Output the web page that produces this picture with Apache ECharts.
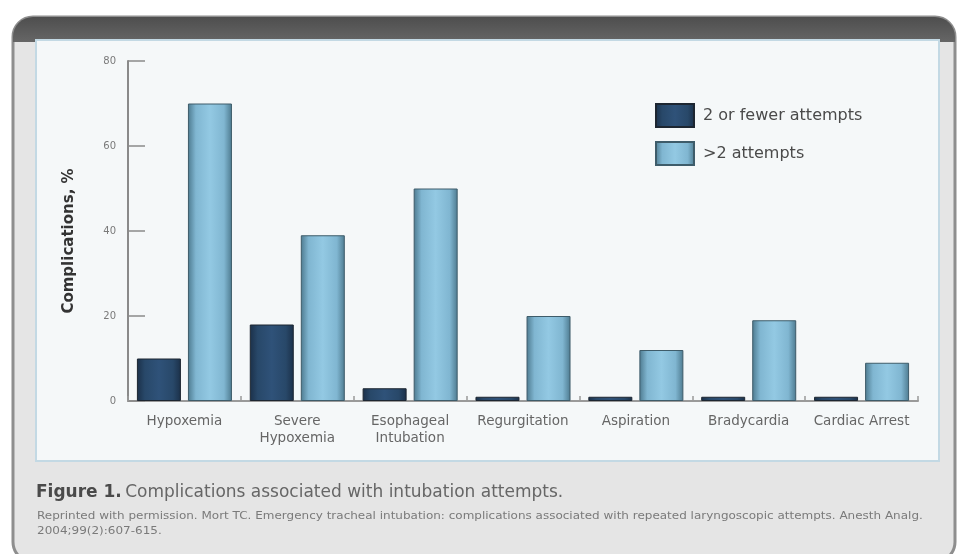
<!DOCTYPE html>
<html>
<head>
<meta charset="utf-8">
<script src="https://cdn.jsdelivr.net/npm/echarts@6/dist/echarts.min.js"></script>
<style>
html,body{margin:0;padding:0;background:#ffffff;}
#c{width:957px;height:554px;}
</style>
</head>
<body>
<div id="c"></div>
<script>
var categories = ['Hypoxemia', 'Severe\nHypoxemia', 'Esophageal\nIntubation', 'Regurgitation', 'Aspiration', 'Bradycardia', 'Cardiac Arrest'];
var seriesNames = ['2 or fewer attempts', '>2 attempts'];
var fewerAttempts = [10, 18, 3, 1, 1, 1, 1];
var moreAttempts = [70, 39, 50, 20, 12, 19, 9];
var yTicks = [0, 20, 40, 60, 80];
var yAxisTitle = 'Complications, %';
var captionBold = 'Figure 1.';
var captionText = 'Complications associated with intubation attempts.';
var citation = 'Reprinted with permission. Mort TC. Emergency tracheal intubation: complications associated with repeated laryngoscopic attempts. Anesth Analg.\n2004;99(2):607-615.';

function grad(edge, mid, center) {
  return new echarts.graphic.LinearGradient(0, 0, 1, 0, [
    {offset: 0, color: edge},
    {offset: 0.18, color: mid},
    {offset: 0.5, color: center},
    {offset: 0.82, color: mid},
    {offset: 1, color: edge}
  ]);
}

var chart = echarts.init(document.getElementById('c'), null, {renderer: 'canvas'});
var font = 'DejaVu Sans';
chart.setOption({
  animation: false,
  textStyle: {fontFamily: font},
  graphic: [
    {type: 'rect', z: -10, shape: {x: 13, y: 17, width: 942, height: 545, r: 20},
     style: {fill: '#e5e5e5', stroke: '#8e8e8e', lineWidth: 3}},
    {type: 'rect', z: -9, shape: {x: 13, y: 17, width: 942, height: 25, r: [20, 20, 0, 0]},
     style: {fill: new echarts.graphic.LinearGradient(0, 0, 0, 1, [
       {offset: 0, color: '#4e4e4e'}, {offset: 1, color: '#666666'}])}},
    {type: 'rect', z: -8, shape: {x: 36, y: 40, width: 903, height: 421},
     style: {fill: '#f5f8f9', stroke: '#c3d9e4', lineWidth: 2}},
    {type: 'text', z: 5, left: 36, top: 484,
     style: {
       text: '{b|' + captionBold + '} {r|' + captionText + '}',
       rich: {
         b: {fontFamily: font, fontSize: 17, fontWeight: 'bold', fill: '#4a4a4a'},
         r: {fontFamily: font, fontSize: 17, fill: '#666666'}
       }
     }},
    {type: 'text', z: 5, x: 37, y: 509, scaleX: 1.09, originX: 0, originY: 0,
     style: {text: citation, fontFamily: font, fontSize: 11, lineHeight: 15, fill: '#7a7a7a'}}
  ],
  legend: {
    orient: 'vertical',
    left: 650,
    top: 98,
    icon: 'rect',
    itemWidth: 38,
    itemHeight: 23,
    itemGap: 13,
    data: seriesNames,
    textStyle: {fontFamily: font, fontSize: 16, color: '#4a4a4a', padding: [0, 0, 0, 4]}
  },
  grid: {left: 128, right: 39, top: 61, bottom: 153},
  xAxis: {
    type: 'category',
    data: categories,
    axisLine: {lineStyle: {color: '#9a9a9a', width: 2}},
    axisTick: {show: true, inside: true, length: 5, alignWithLabel: false, lineStyle: {color: '#999', width: 1.5}},
    axisLabel: {fontFamily: font, fontSize: 13.5, color: '#666666', margin: 12, lineHeight: 17, interval: 0}
  },
  yAxis: {
    type: 'value',
    min: 0,
    max: 80,
    interval: 20,
    name: yAxisTitle,
    nameLocation: 'middle',
    nameGap: 51,
    nameRotate: 90,
    nameTextStyle: {fontFamily: font, fontSize: 15, fontWeight: 'bold', color: '#333333', padding: [0, 20, 0, 0]},
    axisLine: {show: true, lineStyle: {color: '#8a8a8a', width: 2}},
    axisTick: {show: true, inside: true, length: 17, lineStyle: {color: '#8a8a8a', width: 1.5}},
    splitLine: {show: false},
    axisLabel: {fontFamily: font, fontSize: 10, color: '#7a7a7a', margin: 12,
      formatter: function (v) { return yTicks.indexOf(v) >= 0 ? String(v) : ''; }}
  },
  series: [
    {
      name: seriesNames[0],
      type: 'bar',
      data: fewerAttempts,
      barWidth: 44,
      barGap: '16%',
      itemStyle: {color: grad('#1b3049', '#284869', '#2f5279'), borderColor: '#1d2631', borderWidth: 1}
    },
    {
      name: seriesNames[1],
      type: 'bar',
      data: moreAttempts,
      barWidth: 44,
      barGap: '16%',
      itemStyle: {color: grad('#4d7a8f', '#80b6d1', '#93c9e3'), borderColor: '#3e5c6a', borderWidth: 1}
    }
  ]
});
</script>
</body>
</html>
